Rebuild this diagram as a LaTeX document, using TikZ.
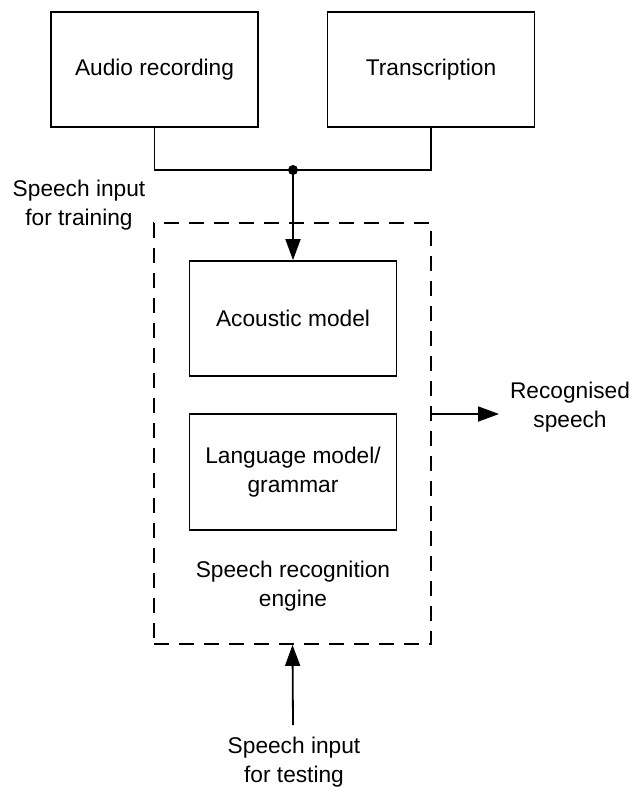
\documentclass[tikz,border=0pt]{standalone}
\usepackage{fontspec}
\setmainfont{Liberation Sans}
\usepackage{xcolor}
\usetikzlibrary{arrows.meta}

\begin{document}
\begin{tikzpicture}[x=1pt,y=-1pt,
    txt/.style={font=\fontsize{22.7}{29}\selectfont,align=center,inner sep=0pt},
    box/.style={txt,draw,line width=1.8pt,minimum width=207pt,minimum height=115pt},
    arr/.style={line width=1.8pt,-{Triangle[length=21pt,width=15pt]}}]
                        \useasboundingbox (0,0) rectangle (633,792);

                        % 放置上方两个框
                        \node[box] (audio) at (154.5,69.5) {Audio recording};
                        \node[box] (transcr) at (431,69.5) {Transcription};

                        % 识别引擎(虚线框)及内部两个框
                        \node[draw,dashed,dash pattern=on 15pt off 10pt,line width=1.8pt,
                              minimum width=277pt,minimum height=421pt,inner sep=0pt]
                              (engine) at (292.5,433.5) {};
                        \node[box,minimum height=115pt] (acoustic) at (293,318.5) {Acoustic model};
                        \node[box,minimum height=116pt] (langmodel) at (293,472) {Language model/\\grammar};
                        \node[txt] (enginelbl) at (293,586) {Speech recognition\\engine};

                        % 文字标注
                        \node[txt] (trainlbl) at (79,205) {Speech input\\for training};
                        \node[txt] (recoglbl) at (570,407) {Recognised\\speech};
                        \node[txt] (testlbl) at (294,762) {Speech input\\for testing};

                        % 连线
                        \coordinate (junc) at (293,170);
                        \draw[line width=1.8pt] (audio.south) |- (junc) -| (transcr.south);
                        \fill (junc) circle (5pt);
                        \draw[arr] (junc) -- (acoustic.north);

                        % 输出与测试输入
                        \coordinate (recog) at (499,414);
                        \draw[arr] (engine.east |- recog) -- (recog);
                        \coordinate (testin) at (293,725);
                        \draw[arr] (testin) -- (engine.south);
                    \end{tikzpicture}
\end{document}
